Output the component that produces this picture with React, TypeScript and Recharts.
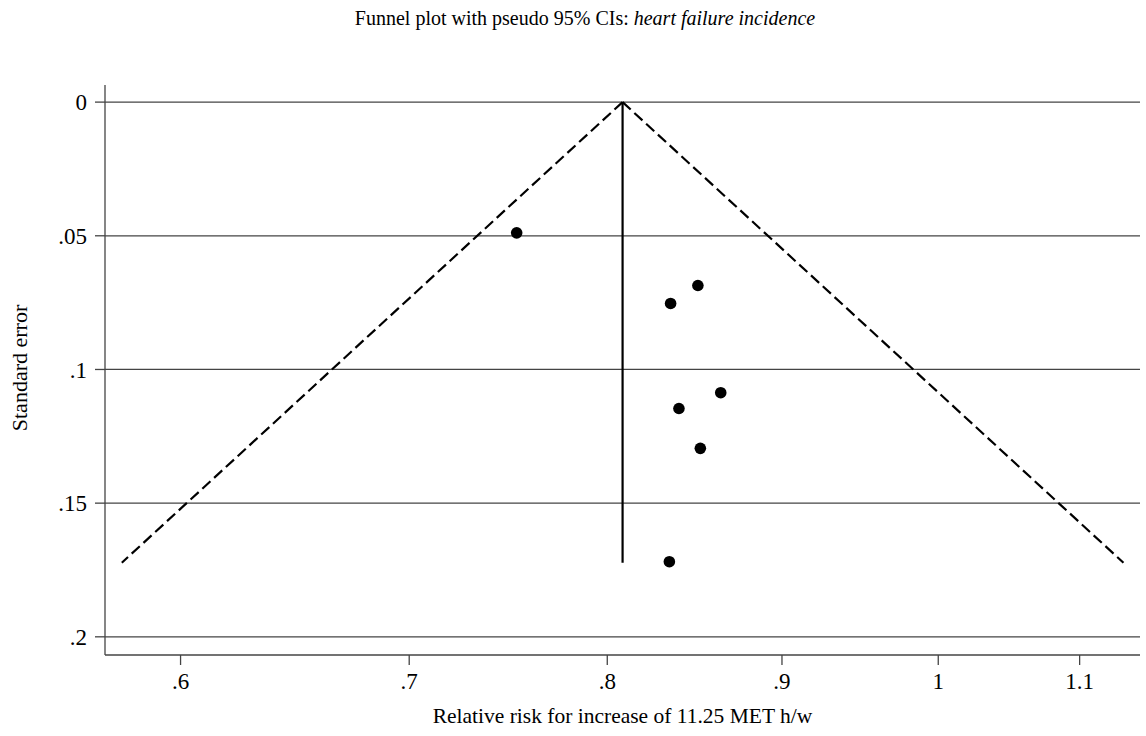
import { ScatterChart, Scatter, XAxis, YAxis, CartesianGrid } from 'recharts'

// study estimates: relative risk and its standard error
const studyRR = [0.7526, 0.8504, 0.8349, 0.8636, 0.8396, 0.8518, 0.8342]
const studySE = [0.0489, 0.0686, 0.0753, 0.1087, 0.1146, 0.1295, 0.1719]

// pooled estimate and pseudo 95% CI limits
const pooledLine = [
  { rr: 0.8083, se: 0 },
  { rr: 0.8083, se: 0.1723 },
]
const lowerLimit = [
  { rr: 0.8083, se: 0 },
  { rr: 0.5767, se: 0.1723 },
]
const upperLimit = [
  { rr: 0.8083, se: 0 },
  { rr: 1.133, se: 0.1723 },
]

const xTicks = [0.6, 0.7, 0.8, 0.9, 1, 1.1]
const yTicks = [0, 0.05, 0.1, 0.15, 0.2]

const studies = studyRR.map((rr, i) => ({ rr, se: studySE[i] }))

const fmt = (v: number) => (v === 0 ? '0' : String(v).replace(/^0(?=\.)/, ''))

const FONT = '"Liberation Serif", "Times New Roman", serif'

const noShape = () => <g />

const dashed = { stroke: '#000', strokeWidth: 2.2, strokeDasharray: '11 5' }

export default function App() {
  return (
    <div style={{ position: 'absolute', left: 0, top: 0, width: 1146, height: 736, background: '#fff', fontFamily: FONT }}>
      <div style={{ position: 'absolute', top: 7, left: 12, width: 1146, textAlign: 'center', fontSize: 20, color: '#000' }}>
        Funnel plot with pseudo 95% CIs: <i>heart failure incidence</i>
      </div>
      <ScatterChart width={1146} height={736} margin={{ top: 85, right: 6, bottom: 31, left: 0 }}>
        <CartesianGrid horizontal vertical={false} horizontalValues={yTicks} stroke="#444" strokeWidth={1.3} />
        <XAxis
          type="number"
          dataKey="rr"
          scale="log"
          domain={[0.5702, 1.1457]}
          allowDataOverflow
          ticks={xTicks}
          tickFormatter={fmt}
          tickSize={10}
          tickMargin={8}
          height={50}
          stroke="#444"
          strokeWidth={1.3}
          tick={{ fill: '#000', fontSize: 23, fontFamily: FONT }}
        />
        <YAxis
          type="number"
          dataKey="se"
          reversed
          domain={[-0.0064, 0.2068]}
          allowDataOverflow
          ticks={yTicks}
          tickFormatter={fmt}
          tickSize={10}
          tickMargin={8}
          width={105}
          stroke="#444"
          strokeWidth={1.3}
          tick={{ fill: '#000', fontSize: 23, fontFamily: FONT }}
        />
        <Scatter data={lowerLimit} shape={noShape} line={dashed} isAnimationActive={false} />
        <Scatter data={upperLimit} shape={noShape} line={dashed} isAnimationActive={false} />
        <Scatter data={pooledLine} shape={noShape} line={{ stroke: '#000', strokeWidth: 2.2 }} isAnimationActive={false} />
        <Scatter data={studies} fill="#000" shape={(p: any) => <circle cx={p.cx} cy={p.cy} r={5.8} fill="#000" />} isAnimationActive={false} />
      </ScatterChart>
      <div style={{ position: 'absolute', top: 704, left: 105, width: 1035, textAlign: 'center', fontSize: 21.5, color: '#000' }}>
        Relative risk for increase of 11.25 MET h/w
      </div>
      <div
        style={{
          position: 'absolute',
          left: 20,
          top: 368,
          transform: 'translate(-50%, -50%) rotate(-90deg)',
          whiteSpace: 'nowrap',
          fontSize: 22,
          color: '#000',
        }}
      >
        Standard error
      </div>
    </div>
  )
}
